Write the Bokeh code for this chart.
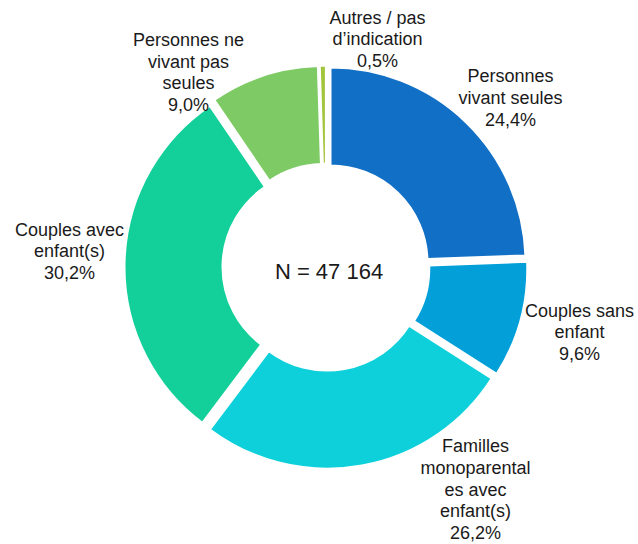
import numpy as np
from bokeh.plotting import figure
from bokeh.models import Range1d, ColumnDataSource
from bokeh.core.properties import value
from bokeh.embed import file_html
from bokeh.resources import INLINE

# ---- data ----
categories = ["Personnes vivant seules", "Couples sans enfant",
              "Familles monoparentales avec enfant(s)", "Couples avec enfant(s)",
              "Personnes ne vivant pas seules", "Autres / pas d'indication"]
shares = [24.4, 9.6, 26.2, 30.2, 9.0, 0.5]
label_texts = ["Personnes\nvivant seules\n24,4%",
               "Couples sans\nenfant\n9,6%",
               "Familles\nmonoparental\nes avec\nenfant(s)\n26,2%",
               "Couples avec\nenfant(s)\n30,2%",
               "Personnes ne\nvivant pas\nseules\n9,0%",
               "Autres / pas\nd\u2019indication\n0,5%"]
center_text = "N = 47 164"

# ---- style / layout ----
colors = ["#116FC5", "#029FD9", "#0ED0DB", "#13CF99", "#7ECB66", "#A3C53C"]
W, H = 638, 544
cx, cy = 325.5, 277.3
R_out, R_in = 195, 97
explode = 6.5
label_off = [(184.5, 169), (253.5, -65.3), (149.5, -222.5),
             (-256.5, 15.7), (-137.5, 194.7), (51.5, 227.7)]

p = figure(width=W, height=H, x_range=Range1d(0, W), y_range=Range1d(0, H),
           output_backend="svg", toolbar_location=None, min_border=0)
p.axis.visible = False
p.grid.visible = False
p.outline_line_color = None
p.background_fill_color = "white"

vals = np.array(shares, dtype=float)
frac = vals / vals.sum()
cum = np.concatenate([[0], np.cumsum(frac)])
start = np.pi / 2 - 2 * np.pi * cum[:-1]
end = np.pi / 2 - 2 * np.pi * cum[1:]
mid = (start + end) / 2
xs = cx + explode * np.cos(mid)
ys = cy + explode * np.sin(mid)

src = ColumnDataSource(dict(x=xs, y=ys, start=start, end=end, color=colors, cat=categories))
p.annular_wedge(x="x", y="y", inner_radius=R_in, outer_radius=R_out,
                start_angle="start", end_angle="end", direction="clock",
                fill_color="color", line_color="white", line_width=2, source=src)

lx = [cx + o[0] for o in label_off]
ly = [cy + o[1] for o in label_off]
p.text(x=lx, y=ly, text=label_texts, text_align="center", text_baseline="middle",
       text_font=value("Liberation Sans"), text_font_size="18px",
       text_color="#1a1a1a", text_line_height=1.09)

p.text(x=[cx + 3], y=[cy - 4], text=[center_text], text_align="center",
       text_baseline="middle", text_font=value("Liberation Sans"),
       text_font_size="22px", text_color="#1a1a1a")

open("out.html", "w").write(file_html(p, INLINE))
